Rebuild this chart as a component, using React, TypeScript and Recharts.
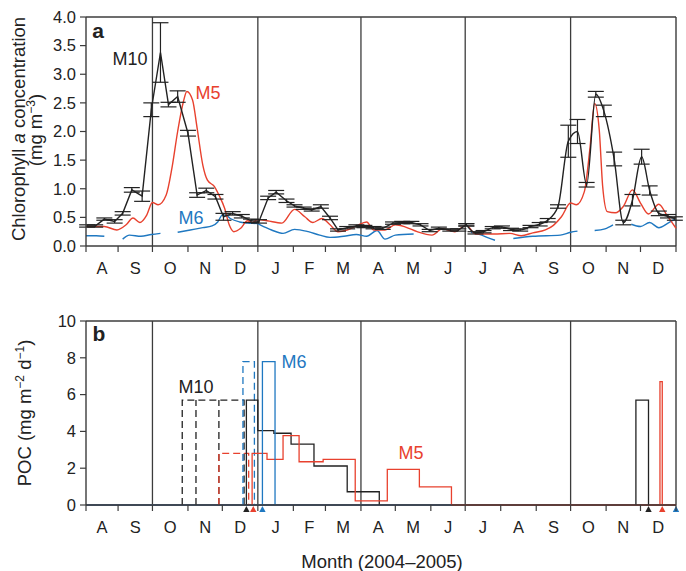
import React from 'react';
import { ComposedChart, Line, XAxis, YAxis, ReferenceLine, ErrorBar, Scatter } from 'recharts';

const FONT = '"Liberation Sans", Arial, Helvetica, sans-serif';
const INK = '#222';
const AX = '#3c3c3c';
const RED = '#e8412e';
const BLUE = '#1f78c1';

// time axis: days since 1 Aug 2004
const xDomain = [3, 518];
const monthBounds = [3, 31, 61, 92, 122, 153, 184, 212, 243, 273, 304, 334, 365, 396, 426, 457, 487, 518];
const monthLabels = ['A', 'S', 'O', 'N', 'D', 'J', 'F', 'M', 'A', 'M', 'J', 'J', 'A', 'S', 'O', 'N', 'D'];
const quarterLines = [61, 153, 243, 334, 426];

// panel a: chlorophyll a (mg m-3)
const m10Days = [4, 11, 19, 28, 35, 43, 52, 60, 68, 75, 83, 92, 100, 108, 116, 123, 131, 139, 147, 154, 162, 169, 178, 185, 193, 200, 208, 216, 223, 231, 239, 246, 254, 262, 271, 279, 287, 295, 303, 311, 321, 328, 335, 343, 350, 358, 366, 374, 382, 391, 399, 406, 415, 424, 432, 440, 448, 455, 464, 472, 480, 488, 495, 503, 511, 517];
const m10Chl = [0.35, 0.35, 0.47, 0.43, 0.57, 0.98, 0.87, 2.38, 3.38, 2.47, 2.61, 1.97, 0.89, 0.97, 0.86, 0.51, 0.57, 0.52, 0.44, 0.43, 0.84, 0.94, 0.79, 0.7, 0.66, 0.63, 0.69, 0.49, 0.28, 0.32, 0.35, 0.34, 0.32, 0.31, 0.4, 0.41, 0.41, 0.37, 0.27, 0.31, 0.28, 0.28, 0.37, 0.23, 0.25, 0.32, 0.33, 0.29, 0.28, 0.34, 0.38, 0.45, 0.69, 1.83, 2.0, 1.07, 2.65, 2.36, 1.52, 0.41, 0.8, 1.56, 0.97, 0.57, 0.52, 0.48];
const m10Err = [0.02, 0.02, 0.02, 0.03, 0.03, 0.04, 0.09, 0.12, 0.52, 0.04, 0.1, 0.05, 0.04, 0.04, 0.04, 0.06, 0.03, 0.03, 0.03, 0.03, 0.03, 0.03, 0.03, 0.02, 0.02, 0.02, 0.03, 0.03, 0.02, 0.02, 0.02, 0.02, 0.02, 0.02, 0.02, 0.02, 0.02, 0.02, 0.02, 0.02, 0.02, 0.02, 0.02, 0.02, 0.02, 0.02, 0.02, 0.02, 0.02, 0.02, 0.03, 0.03, 0.03, 0.28, 0.21, 0.04, 0.05, 0.1, 0.12, 0.04, 0.1, 0.13, 0.08, 0.04, 0.03, 0.03];
const m10SmoothFrom = 335; // the second deployment is drawn as a smooth curve

const m5Days = [3, 19, 30, 38, 44, 50, 56, 61, 66, 73, 78, 83, 88, 91, 96, 100, 105, 109, 115, 119, 124, 128, 132, 138, 144, 148, 153, 161, 174, 185, 194, 201, 209, 216, 223, 231, 239, 248, 254, 264, 273, 282, 292, 305, 314, 325, 332, 335, 343, 359, 373, 383, 393, 404, 411, 418, 426, 431, 438, 443, 447, 451, 454, 458, 465, 472, 480, 487, 494, 503, 510, 518];
const m5Chl = [0.34, 0.34, 0.28, 0.37, 0.49, 0.41, 0.54, 0.76, 0.72, 0.89, 1.36, 2.0, 2.52, 2.7, 2.55, 2.06, 1.41, 1.15, 1.04, 0.89, 0.66, 0.37, 0.25, 0.31, 0.44, 0.41, 0.46, 0.44, 0.4, 0.64, 0.51, 0.41, 0.48, 0.37, 0.25, 0.28, 0.35, 0.42, 0.28, 0.28, 0.37, 0.33, 0.25, 0.19, 0.3, 0.25, 0.34, 0.36, 0.21, 0.21, 0.22, 0.18, 0.23, 0.28, 0.36, 0.51, 0.75, 0.72, 0.95, 1.73, 2.49, 2.03, 1.04, 0.6, 0.58, 0.69, 0.98, 0.75, 0.56, 0.73, 0.54, 0.31];

// null = gap in the record
const m6Days = [3, 12, 19, 19, 35, 41, 51, 60, 68, 68, 83, 94, 105, 113, 118, 122, 125, 129, 137, 144, 153, 155, 165, 175, 185, 197, 207, 216, 228, 239, 248, 257, 264, 273, 289, 289, 339, 347, 353, 360, 360, 376, 393, 417, 426, 432, 432, 447, 456, 463, 463, 479, 487, 495, 503, 511, 517];
const m6Chl = [0.18, 0.18, 0.17, null, 0.12, 0.19, 0.17, 0.2, 0.22, null, 0.24, 0.28, 0.32, 0.35, 0.42, 0.54, 0.54, 0.48, 0.42, 0.4, 0.39, 0.37, 0.28, 0.22, 0.29, 0.25, 0.19, 0.15, 0.17, 0.2, 0.17, 0.27, 0.12, 0.19, 0.21, null, 0.24, 0.2, 0.15, 0.1, null, 0.13, 0.17, 0.19, 0.24, 0.26, null, 0.27, 0.3, 0.37, null, 0.38, 0.34, 0.41, 0.32, 0.4, 0.47];

// panel b: POC flux (mg m-2 d-1), trap cup open/close days and flux
const m10DashCups = [87, 99, 119, 141];
const m10DashPoc = [5.7, 5.7, 5.7];
const m10Cups = [143, 153, 167, 182, 202, 231, 259];
const m10Poc = [5.7, 4.04, 3.9, 3.31, 2.12, 0.72];
const m10Cups2 = [483, 494];
const m10Poc2 = [5.7];
const m5DashCups = [119, 145];
const m5DashPoc = [2.81];
const m5Cups = [148, 161, 175, 189, 210, 238, 266, 294, 322];
const m5Poc = [2.81, 2.48, 3.77, 2.35, 2.48, 0.22, 1.94, 0.99];
const m5Cups2 = [504, 506];
const m5Poc2 = [6.7];
const m6DashCups = [140, 150];
const m6DashPoc = [7.79];
const m6Cups = [157, 168];
const m6Poc = [7.79];
const m10Deploy = [143, 494];
const m5Deploy = [149, 506];
const m6Deploy = [157, 518];

type Pt = { d: number; v: number | null };

const zip = (days: number[], vals: (number | null)[]) => days.map((d, i) => ({ d, v: vals[i] }));
const m10Data = m10Days.map((d, i) => ({ d, v: m10Chl[i], e: m10Err[i] }));
const m10First = m10Data.filter((p) => p.d <= m10SmoothFrom);
const m10Second = m10Data.filter((p) => p.d >= m10SmoothFrom);
const m5Data = zip(m5Days, m5Chl);
const m6Data = zip(m6Days, m6Chl);

// outline of consecutive cups, stepping between flux values
const stepPoints = (bounds: number[], vals: number[]) => {
  const pts: Pt[] = [{ d: bounds[0], v: 0 }];
  vals.forEach((v, i) => {
    pts.push({ d: bounds[i], v });
    pts.push({ d: bounds[i + 1], v });
  });
  pts.push({ d: bounds[bounds.length - 1], v: 0 });
  pts.push({ d: bounds[bounds.length - 1], v: null });
  return pts;
};

// same outline plus a full-height divider between every cup
const boxPoints = (bounds: number[], vals: number[]) => {
  const pts = stepPoints(bounds, vals);
  for (let i = 1; i < vals.length; i++) {
    pts.push({ d: bounds[i], v: 0 }, { d: bounds[i], v: Math.max(vals[i - 1], vals[i]) }, { d: bounds[i], v: null });
  }
  return pts;
};

const deployPoints = (days: number[]) => days.map((d) => ({ d, v: 0 }));

const midLabel = new Map<number, string>();
monthLabels.forEach((m, i) => midLabel.set((monthBounds[i] + monthBounds[i + 1]) / 2, m));
const xTicks = [...monthBounds, ...Array.from(midLabel.keys())];

const XTick = (props: any) => {
  const { x, y, payload } = props;
  const label = midLabel.get(payload.value);
  if (label === undefined) {
    return <line x1={x} x2={x} y1={y} y2={y + 6} stroke={AX} strokeWidth={1.2} />;
  }
  return (
    <text x={x} y={y + 28} textAnchor="middle" fontSize={16.5} fill={INK} fontFamily={FONT}>
      {label}
    </text>
  );
};

const Tri = (props: any) => {
  const { cx, cy, color } = props;
  return <polygon points={`${cx},${cy + 1} ${cx - 3.2},${cy + 7} ${cx + 3.2},${cy + 7}`} fill={color} />;
};

const Txt = ({ x, y, size = 18, color = INK, bold = false, rotate = false, children }: any) => (
  <div
    style={{
      position: 'absolute',
      left: x,
      top: y,
      transform: `translate(-50%, -50%)${rotate ? ' rotate(-90deg)' : ''}`,
      fontSize: size,
      color,
      fontWeight: bold ? 700 : 400,
      fontFamily: FONT,
      lineHeight: 1,
      whiteSpace: 'nowrap',
    }}
  >
    {children}
  </div>
);

const Sup = ({ children }: any) => (
  <span style={{ fontSize: '0.65em', position: 'relative', top: '-0.6em' }}>{children}</span>
);

const xAxisProps = {
  type: 'number' as const,
  dataKey: 'd',
  domain: xDomain,
  ticks: xTicks,
  interval: 0,
  tick: (p: any) => <XTick {...p} />,
  tickLine: false,
  tickSize: 0,
  tickMargin: 0,
  height: 24,
  axisLine: { stroke: AX, strokeWidth: 1.4 },
};

const yTickStyle = { fontSize: 16.5, fill: INK, fontFamily: FONT };

const frame = (top: number) => [
  ...quarterLines.map((x) => <ReferenceLine key={`q${x}`} x={x} stroke={AX} strokeWidth={1.3} />),
  <ReferenceLine key="top" y={top} stroke={AX} strokeWidth={1.4} />,
  <ReferenceLine key="right" x={518} stroke={AX} strokeWidth={1.4} />,
];

const ChlPanel = () => (
  <ComposedChart width={686} height={280} margin={{ top: 17, right: 10, bottom: 10, left: 26 }}>
    <XAxis {...xAxisProps} />
    <YAxis
      type="number"
      domain={[0, 4]}
      ticks={[0, 0.5, 1, 1.5, 2, 2.5, 3, 3.5, 4]}
      tickFormatter={(v: number) => v.toFixed(1)}
      width={60}
      tick={yTickStyle}
      tickSize={6}
      tickMargin={4}
      tickLine={{ stroke: AX, strokeWidth: 1.2 }}
      axisLine={{ stroke: AX, strokeWidth: 1.4 }}
    />
    {frame(4)}
    <Line data={m6Data} dataKey="v" type="monotone" stroke={BLUE} strokeWidth={1.4} dot={false} isAnimationActive={false} />
    <Line data={m5Data} dataKey="v" type="monotone" stroke={RED} strokeWidth={1.4} dot={false} isAnimationActive={false} />
    <Line data={m10First} dataKey="v" type="linear" stroke={INK} strokeWidth={1.4} dot={false} isAnimationActive={false}>
      <ErrorBar dataKey="e" width={8} stroke={INK} strokeWidth={1.2} direction="y" />
    </Line>
    <Line data={m10Second} dataKey="v" type="monotone" stroke={INK} strokeWidth={1.4} dot={false} isAnimationActive={false}>
      <ErrorBar dataKey="e" width={8} stroke={INK} strokeWidth={1.2} direction="y" />
    </Line>
  </ComposedChart>
);

const PocPanel = () => (
  <ComposedChart width={686} height={281} margin={{ top: 31, right: 10, bottom: 42, left: 26 }}>
    <XAxis {...xAxisProps} />
    <YAxis
      type="number"
      dataKey="v"
      domain={[0, 10]}
      ticks={[0, 2, 4, 6, 8, 10]}
      width={60}
      tick={yTickStyle}
      tickSize={6}
      tickMargin={4}
      tickLine={{ stroke: AX, strokeWidth: 1.2 }}
      axisLine={{ stroke: AX, strokeWidth: 1.4 }}
    />
    {frame(10)}
    <Line data={[{ d: 3, v: 0 }, { d: 518, v: 0 }]} dataKey="v" stroke={INK} strokeWidth={1.4} dot={false} isAnimationActive={false} />
    <Line data={[{ d: 3, v: 0 }, { d: 518, v: 0 }]} dataKey="v" stroke={RED} strokeWidth={1.4} dot={false} isAnimationActive={false} />
    <Line data={[{ d: 3, v: 0 }, { d: 322, v: 0 }]} dataKey="v" stroke={BLUE} strokeWidth={1.4} dot={false} isAnimationActive={false} />
    <Line data={boxPoints(m10DashCups, m10DashPoc)} dataKey="v" stroke={INK} strokeWidth={1.3} strokeDasharray="7 4" dot={false} isAnimationActive={false} />
    <Line data={boxPoints(m5DashCups, m5DashPoc)} dataKey="v" stroke={RED} strokeWidth={1.3} strokeDasharray="7 4" dot={false} isAnimationActive={false} />
    <Line data={boxPoints(m6DashCups, m6DashPoc)} dataKey="v" stroke={BLUE} strokeWidth={1.3} strokeDasharray="7 4" dot={false} isAnimationActive={false} />
    <Line data={[...stepPoints(m10Cups, m10Poc), ...stepPoints(m10Cups2, m10Poc2)]} dataKey="v" stroke={INK} strokeWidth={1.3} dot={false} isAnimationActive={false} />
    <Line data={[...stepPoints(m5Cups, m5Poc), ...stepPoints(m5Cups2, m5Poc2)]} dataKey="v" stroke={RED} strokeWidth={1.3} dot={false} isAnimationActive={false} />
    <Line data={stepPoints(m6Cups, m6Poc)} dataKey="v" stroke={BLUE} strokeWidth={1.3} dot={false} isAnimationActive={false} />
    <Scatter data={deployPoints(m10Deploy)} dataKey="v" shape={(p: any) => <Tri {...p} color={INK} />} isAnimationActive={false} />
    <Scatter data={deployPoints(m5Deploy)} dataKey="v" shape={(p: any) => <Tri {...p} color={RED} />} isAnimationActive={false} />
    <Scatter data={deployPoints(m6Deploy)} dataKey="v" shape={(p: any) => <Tri {...p} color={BLUE} />} isAnimationActive={false} />
  </ComposedChart>
);

export default function App() {
  return (
    <div style={{ position: 'absolute', left: 0, top: 0, width: 686, height: 571, background: '#fff' }}>
      <div style={{ position: 'absolute', left: 0, top: 0 }}>
        <ChlPanel />
      </div>
      <div style={{ position: 'absolute', left: 0, top: 290 }}>
        <PocPanel />
      </div>

      <Txt x={19} y={129} size={18.5} rotate>
        Chlorophyll <i>a</i> concentration
      </Txt>
      <Txt x={36} y={130} size={18.5} rotate>
        (mg m<Sup>−3</Sup>)
      </Txt>
      <Txt x={25} y={413} size={18.5} rotate>
        POC (mg m<Sup>−2</Sup> d<Sup>−1</Sup>)
      </Txt>
      <Txt x={382} y={562} size={18.5}>
        Month (2004–2005)
      </Txt>

      <Txt x={98} y={30} size={21} bold>a</Txt>
      <Txt x={130} y={59} size={18}>M10</Txt>
      <Txt x={208} y={93} size={18} color={RED}>M5</Txt>
      <Txt x={191} y={218} size={18} color={BLUE}>M6</Txt>

      <Txt x={99} y={333} size={21} bold>b</Txt>
      <Txt x={196} y={387} size={18}>M10</Txt>
      <Txt x={294} y={362} size={18} color={BLUE}>M6</Txt>
      <Txt x={411} y={453} size={18} color={RED}>M5</Txt>
    </div>
  );
}
